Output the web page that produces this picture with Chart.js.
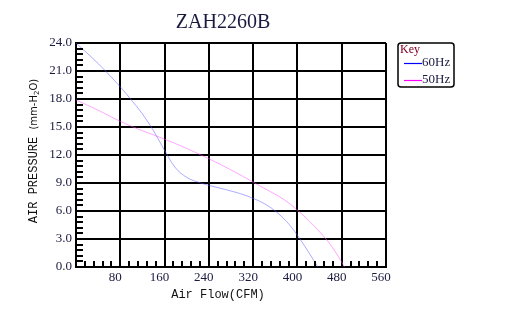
<!DOCTYPE html>
<html>
<head>
<meta charset="utf-8">
<script src="https://cdn.jsdelivr.net/npm/chart.js@4"></script>
<style>
  body { margin: 0; background: #fff; }
  canvas { display: block; }
</style>
</head>
<body>
<canvas id="fanChart" width="509" height="333"></canvas>
<script>
// values
const flow60 = [0, 40, 80, 100, 120, 140, 160, 180, 200, 220, 240, 270, 300, 320, 340, 360, 380, 400, 420, 437];
const press60 = [24, 21.8, 19.3, 17.9, 16.4, 14.6, 12.5, 10.6, 9.6, 9.1, 8.75, 8.3, 7.8, 7.35, 6.8, 6.0, 4.9, 3.4, 1.6, 0];

const flow50 = [0, 40, 80, 120, 160, 200, 240, 280, 320, 350, 374, 400, 430, 455, 471, 485];
const press50 = [17.9, 16.8, 15.6, 14.6, 13.7, 12.7, 11.6, 10.4, 9.1, 8.1, 7.3, 6.1, 4.4, 2.75, 1.4, 0];

const seriesNames = ['60Hz', '50Hz'];
const lineColors = ['rgba(90, 90, 255, 0.5)', 'rgba(255, 80, 255, 0.5)'];
const keyColors = ['#0000ff', '#ff00ff'];
const chartTitle = 'ZAH2260B';

const toPoints = (xs, ys) => xs.map((x, i) => ({ x: x, y: ys[i] }));

const textColor = '#1a1a40';

// minor ticks, titles and the "Key" box
const decorations = {
  id: 'decorations',
  afterDraw(chart) {
    const ctx = chart.ctx;
    const xs = chart.scales.x;
    const ys = chart.scales.y;
    const area = chart.chartArea;
    ctx.save();
    ctx.strokeStyle = '#000';
    ctx.lineWidth = 2;
    ctx.beginPath();
    for (let v = 0.6; v < 24; v += 0.6) {
      if (Math.abs(v / 3 - Math.round(v / 3)) < 0.01) continue;
      const py = Math.round(ys.getPixelForValue(v));
      ctx.moveTo(area.left, py);
      ctx.lineTo(area.left + 7, py);
    }
    for (let v = 16; v < 560; v += 16) {
      if (v % 80 === 0) continue;
      const px = Math.round(xs.getPixelForValue(v));
      ctx.moveTo(px, area.bottom);
      ctx.lineTo(px, area.bottom - 6);
    }
    ctx.stroke();

    // title
    ctx.fillStyle = textColor;
    ctx.font = '20px "Liberation Serif", serif';
    ctx.textAlign = 'center';
    ctx.textBaseline = 'middle';
    ctx.fillText(chartTitle, 223, 23);

    // x title
    ctx.font = '12px "Liberation Mono", monospace';
    ctx.fillStyle = '#111';
    ctx.fillText('Air Flow(CFM)', 218, 295);

    // y title, rotated
    ctx.save();
    ctx.translate(34, 151);
    ctx.rotate(-Math.PI / 2);
    ctx.textAlign = 'left';
    ctx.font = '12px "Liberation Mono", monospace';
    const main = 'AIR PRESSURE ';
    const w1 = ctx.measureText(main).width;
    ctx.font = '10px "DejaVu Sans", sans-serif';
    const p1 = '(mm-H';
    const p2 = 'O)';
    const wp1 = ctx.measureText(p1).width;
    const wp2 = ctx.measureText(p2).width;
    ctx.font = '7px "DejaVu Sans", sans-serif';
    const wsub = ctx.measureText('2').width;
    let x = -(w1 + wp1 + wsub + wp2) / 2;
    ctx.font = '12px "Liberation Mono", monospace';
    ctx.fillText(main, x, 0);
    x += w1;
    ctx.font = '10px "DejaVu Sans", sans-serif';
    ctx.fillText(p1, x, 0);
    x += wp1;
    ctx.font = '7px "DejaVu Sans", sans-serif';
    ctx.fillText('2', x, 3);
    x += wsub;
    ctx.font = '10px "DejaVu Sans", sans-serif';
    ctx.fillText(p2, x, 0);
    ctx.restore();

    // legend box
    const bx = 398, by = 43, bw = 56, bh = 44;
    ctx.lineWidth = 1.5;
    ctx.strokeStyle = '#000';
    ctx.beginPath();
    ctx.roundRect(bx, by, bw, bh, 3);
    ctx.stroke();
    ctx.textAlign = 'left';
    ctx.font = '12px "Liberation Serif", serif';
    ctx.fillStyle = '#800020';
    ctx.fillText('Key', 400, 50);
    seriesNames.forEach((name, i) => {
      const ly = 63 + i * 17;
      ctx.strokeStyle = keyColors[i];
      ctx.lineWidth = 1.2;
      ctx.beginPath();
      ctx.moveTo(404, ly + 0.5);
      ctx.lineTo(422, ly + 0.5);
      ctx.stroke();
      ctx.fillStyle = textColor;
      ctx.font = '13px "Liberation Serif", serif';
      ctx.fillText(name, 422, ly);
    });
    ctx.restore();
  }
};

new Chart(document.getElementById('fanChart'), {
  type: 'scatter',
  data: {
    datasets: [
      {
        label: seriesNames[0],
        data: toPoints(flow60, press60),
        showLine: true,
        borderColor: lineColors[0],
        borderWidth: 1,
        pointRadius: 0,
        tension: 0.35
      },
      {
        label: seriesNames[1],
        data: toPoints(flow50, press50),
        showLine: true,
        borderColor: lineColors[1],
        borderWidth: 1,
        pointRadius: 0,
        tension: 0.35
      }
    ]
  },
  options: {
    responsive: false,
    animation: false,
    layout: { padding: { left: 0, right: 123, top: 43, bottom: 0 } },
    plugins: {
      legend: { display: false },
      title: { display: false },
      tooltip: { enabled: false }
    },
    scales: {
      x: {
        type: 'linear',
        min: 0,
        max: 560,
        afterFit: (s) => { s.height = 66; },
        ticks: {
          stepSize: 80,
          padding: 3,
          labelOffset: -5,
          color: textColor,
          font: { family: '"Liberation Serif", serif', size: 13 },
          callback: (v) => (v === 0 ? '' : v)
        },
        grid: { color: '#000', lineWidth: 2, drawTicks: false },
        border: { color: '#000', width: 2 }
      },
      y: {
        min: 0,
        max: 24,
        afterFit: (s) => { s.width = 76; },
        ticks: {
          stepSize: 3,
          padding: 4,
          color: textColor,
          font: { family: '"Liberation Serif", serif', size: 13 },
          callback: (v) => v.toFixed(1)
        },
        grid: { color: '#000', lineWidth: 2, drawTicks: false },
        border: { color: '#000', width: 2 }
      }
    }
  },
  plugins: [decorations]
});
</script>
</body>
</html>
